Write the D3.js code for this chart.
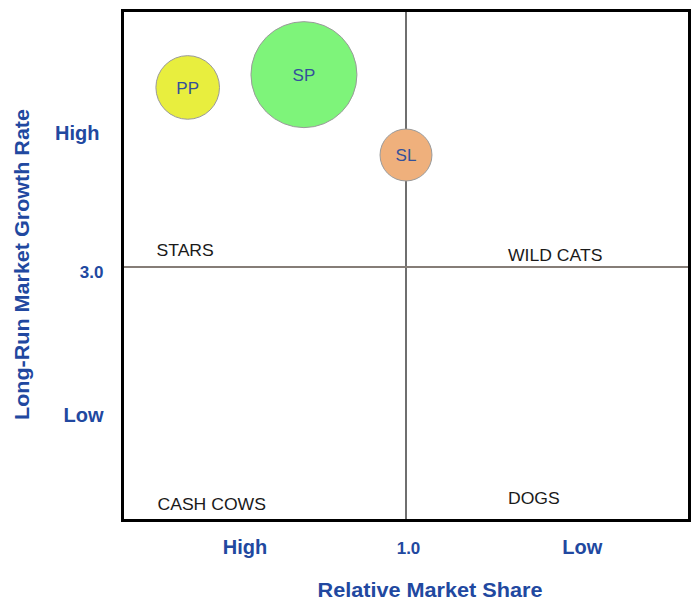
<!DOCTYPE html>
<html>
<head>
<meta charset="utf-8">
<script src="https://cdn.jsdelivr.net/npm/d3@7"></script>
<style>
  html, body { margin: 0; padding: 0; background: #fff; }
  text { font-family: "Liberation Sans", Arial, sans-serif; }
</style>
</head>
<body>
<svg id="chart" width="700" height="600"></svg>
<script>
// ---- data ----
const products = ["PP", "SP", "SL"];
const relativeShare = [1.77, 1.36, 1.0];
const growthRate = [5.10, 5.25, 4.31];
const bubbleSize = [3.6, 10, 2.4];
const bubbleColors = ["#e8ee3e", "#7ef47a", "#efb07c"];

const quadrantNames = ["STARS", "WILD CATS", "CASH COWS", "DOGS"];

const xTickValues = [1.57, 1.0, 0.38];
const xTickLabels = ["High", "1.0", "Low"];
const yTickValues = [4.57, 3.0, 1.26];
const yTickLabels = ["High", "3.0", "Low"];

const xTitle = "Relative Market Share";
const yTitle = "Long-Run Market Growth Rate";

// ---- layout ----
const svg = d3.select("#chart");
const pLeft = 122.5, pRight = 689.5, pTop = 10.5, pBottom = 520.5;
const blue = "#2148a0";

const x = d3.scaleLinear().domain([2, 0]).range([pLeft, pRight]);
const y = d3.scaleLinear().domain([0, 3, 6]).range([pBottom, 267, pTop]);
const r = d3.scaleSqrt().domain([0, 10]).range([0, 53]);

// dividers
svg.append("line")
  .attr("x1", x(1)).attr("x2", x(1))
  .attr("y1", pTop).attr("y2", pBottom)
  .attr("stroke", "#6f6f6f").attr("stroke-width", 2);
svg.append("line")
  .attr("x1", pLeft).attr("x2", pRight)
  .attr("y1", y(3)).attr("y2", y(3))
  .attr("stroke", "#857d77").attr("stroke-width", 2);

// quadrant labels
const qPos = [
  { x: x(2) + 34, y: y(3) - 11 },
  { x: x(1) + 102, y: y(3) - 6 },
  { x: x(2) + 35, y: y(0) - 10 },
  { x: x(1) + 102, y: y(0) - 16 }
];
svg.append("g").selectAll("text")
  .data(quadrantNames)
  .join("text")
  .attr("x", (d, i) => qPos[i].x)
  .attr("y", (d, i) => qPos[i].y)
  .attr("font-size", 16)
  .attr("fill", "#1a1a1a")
  .attr("transform", (d, i) => `translate(${qPos[i].x},0) scale(1.1,1) translate(${-qPos[i].x},0)`)
  .text(d => d);

// bubbles
const bubbles = products.map((p, i) => ({
  name: p, share: relativeShare[i], growth: growthRate[i], size: bubbleSize[i], color: bubbleColors[i]
}));
const bg = svg.append("g").selectAll("g")
  .data(bubbles)
  .join("g");
bg.append("circle")
  .attr("cx", d => x(d.share))
  .attr("cy", d => y(d.growth))
  .attr("r", d => r(d.size))
  .attr("fill", d => d.color)
  .attr("stroke", "#9a9a9a")
  .attr("stroke-width", 1);
bg.append("text")
  .attr("x", d => x(d.share))
  .attr("y", d => y(d.growth))
  .attr("dy", "0.36em")
  .attr("text-anchor", "middle")
  .attr("font-size", 17)
  .attr("fill", "#34509a")
  .text(d => d.name);

// frame
svg.append("rect")
  .attr("x", pLeft).attr("y", pTop)
  .attr("width", pRight - pLeft).attr("height", pBottom - pTop)
  .attr("fill", "none").attr("stroke", "#000").attr("stroke-width", 3);

// x axis
const xAxis = svg.append("g")
  .attr("transform", `translate(0,${pBottom})`)
  .call(d3.axisBottom(x).tickValues(xTickValues).tickSize(0)
    .tickFormat((d, i) => xTickLabels[i]));
xAxis.select(".domain").remove();
xAxis.selectAll("text")
  .attr("y", 33).attr("dy", 0)
  .attr("font-family", "'Liberation Sans', Arial, sans-serif")
  .attr("font-weight", "bold")
  .attr("font-size", (d, i) => i === 1 ? 17 : 20)
  .attr("fill", blue)
  .attr("dx", (d, i) => i === 1 ? 2 : 0);

// y axis
const yAxis = svg.append("g")
  .attr("transform", `translate(${pLeft},0)`)
  .call(d3.axisLeft(y).tickValues(yTickValues).tickSize(0)
    .tickFormat((d, i) => yTickLabels[i]));
yAxis.select(".domain").remove();
yAxis.selectAll("text")
  .attr("x", (d, i) => i === 0 ? -23 : -19)
  .attr("dy", (d, i) => i === 1 ? "0.62em" : "0.36em")
  .attr("font-family", "'Liberation Sans', Arial, sans-serif")
  .attr("font-weight", "bold")
  .attr("font-size", (d, i) => i === 1 ? 17 : 20)
  .attr("fill", blue);

// axis titles
svg.append("text")
  .attr("x", 430).attr("y", 597)
  .attr("text-anchor", "middle")
  .attr("font-weight", "bold")
  .attr("font-size", 20)
  .attr("fill", blue)
  .attr("textLength", 225)
  .attr("lengthAdjust", "spacingAndGlyphs")
  .text(xTitle);

svg.append("text")
  .attr("transform", "translate(28.5,264.5) rotate(-90)")
  .attr("text-anchor", "middle")
  .attr("font-weight", "bold")
  .attr("font-size", 20)
  .attr("fill", blue)
  .attr("textLength", 311)
  .attr("lengthAdjust", "spacingAndGlyphs")
  .text(yTitle);
</script>
</body>
</html>
